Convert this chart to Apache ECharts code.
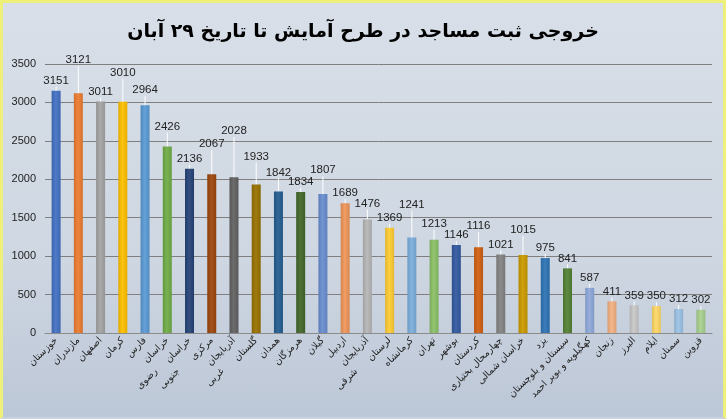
<!DOCTYPE html>
<html>
<head>
<meta charset="utf-8">
<script src="https://cdn.jsdelivr.net/npm/echarts@6/dist/echarts.min.js"></script>
<style>
html,body{margin:0;padding:0;}
#c{width:726px;height:419px;box-sizing:border-box;border-top:3px solid #eef07a;border-left:3px solid #eef07a;border-right:3px solid #eef07a;border-bottom:2px solid #c8d2e0;background:linear-gradient(180deg,#d8dfe8 0%,#cfd7e2 60%,#bcc7d7 100%);}
</style>
</head>
<body>
<div id="c"></div>
<script>
const categories = ["خوزستان","مازندران","اصفهان","کرمان","فارس","خراسان رضوی","خراسان جنوبی","مرکزی","آذربایجان غربی","گلستان","همدان","هرمزگان","گیلان","اردبیل","آذربایجان شرقی","لرستان","کرمانشاه","تهران","بوشهر","کردستان","چهارمحال بختیاری","خراسان شمالی","یزد","سیستان و بلوچستان","کهگیلویه و بویر احمد","زنجان","البرز","ایلام","سمنان","قزوین"];
const values = [3151,3121,3011,3010,2964,2426,2136,2067,2028,1933,1842,1834,1807,1689,1476,1369,1241,1213,1146,1116,1021,1015,975,841,587,411,359,350,312,302];
const yTicks = [0,500,1000,1500,2000,2500,3000,3500];
const title = "خروجی ثبت مساجد در طرح آمایش تا تاریخ ۲۹ آبان";

// styles
const colors = ["#4472C4","#ED7D31","#A5A5A5","#FFC000","#5B9BD5","#70AD47","#264478","#9E480E","#636363","#997300","#255E91","#43682B","#698ED0","#F1975A","#B7B7B7","#FFCD33","#7CAFDD","#8CC168","#335AA1","#D26012","#848484","#CC9A00","#2E75B6","#548235","#8FAADC","#F4B183","#C9C9C9","#FFD966","#9DC3E6","#A9D18E"];
const labelLift = [0,23,0,19,5,10,0,20,36,18,9,0,14,0,6,0,23,6,0,11,0,15,0,0,0,0,0,0,0,0];
const wrapIdx = [5,6,8,14];

function shade(hex, f){
  const n = parseInt(hex.slice(1),16);
  let r=(n>>16)&255,g=(n>>8)&255,b=n&255;
  if(f<0){r=Math.round(r*(1+f));g=Math.round(g*(1+f));b=Math.round(b*(1+f));}
  else{r=Math.round(r+(255-r)*f);g=Math.round(g+(255-g)*f);b=Math.round(b+(255-b)*f);}
  return `rgb(${r},${g},${b})`;
}

const chart = echarts.init(document.getElementById('c'), null, {renderer:'canvas'});
const data = values.map((v,i)=>({
  value:v,
  itemStyle:{color:new echarts.graphic.LinearGradient(0,0,1,0,[
    {offset:0,color:shade(colors[i],-0.12)},
    {offset:0.45,color:shade(colors[i],0.06)},
    {offset:1,color:shade(colors[i],-0.1)}
  ])}
}));

const lblFont = {fontFamily:'DejaVu Sans',fontSize:9.5,color:'#222',lineHeight:14};

chart.setOption({
  animation:false,
  title:{text:title,left:'center',top:15,textStyle:{fontFamily:'DejaVu Sans',fontWeight:'bold',fontSize:19,color:'#000'}},
  grid:{left:42,right:11,top:61,bottom:84},
  xAxis:{
    type:'category',data:categories,
    axisLine:{show:true,lineStyle:{color:'#8c8c8c'}},
    axisTick:{show:false},
    axisLabel:Object.assign({interval:0,rotate:45,margin:6,
      rich:{
        e:Object.assign({},lblFont),
        a:Object.assign({align:'right'},lblFont),
        b:Object.assign({align:'right',padding:[0,30,0,0]},lblFont)
      },
      formatter:function(v,i){
        if(wrapIdx.indexOf(i)<0) return v;
        const k=v.lastIndexOf(' ');
        return '{e|\u00a0}\n{a|'+v.slice(0,k)+'}\n{b|'+v.slice(k+1)+'}';
      }},lblFont)
  },
  yAxis:{
    type:'value',min:yTicks[0],max:yTicks[yTicks.length-1],interval:500,
    axisLine:{show:false},axisTick:{show:false},
    axisLabel:{fontFamily:'Liberation Sans',fontSize:11,color:'#222',margin:9,formatter:v=>String(v)},
    splitLine:{lineStyle:{color:'#7f7f7f',width:1}}
  },
  series:[{
    type:'bar',data:data,barWidth:9,
    label:{show:true,position:'top',distance:4,fontFamily:'Liberation Sans',fontSize:11.5,color:'#222'},
    labelLine:{show:true,lineStyle:{color:'#ffffff',width:1}},
    labelLayout:function(p){return {dy:-labelLift[p.dataIndex]};}
  }]
});
</script>
</body>
</html>
